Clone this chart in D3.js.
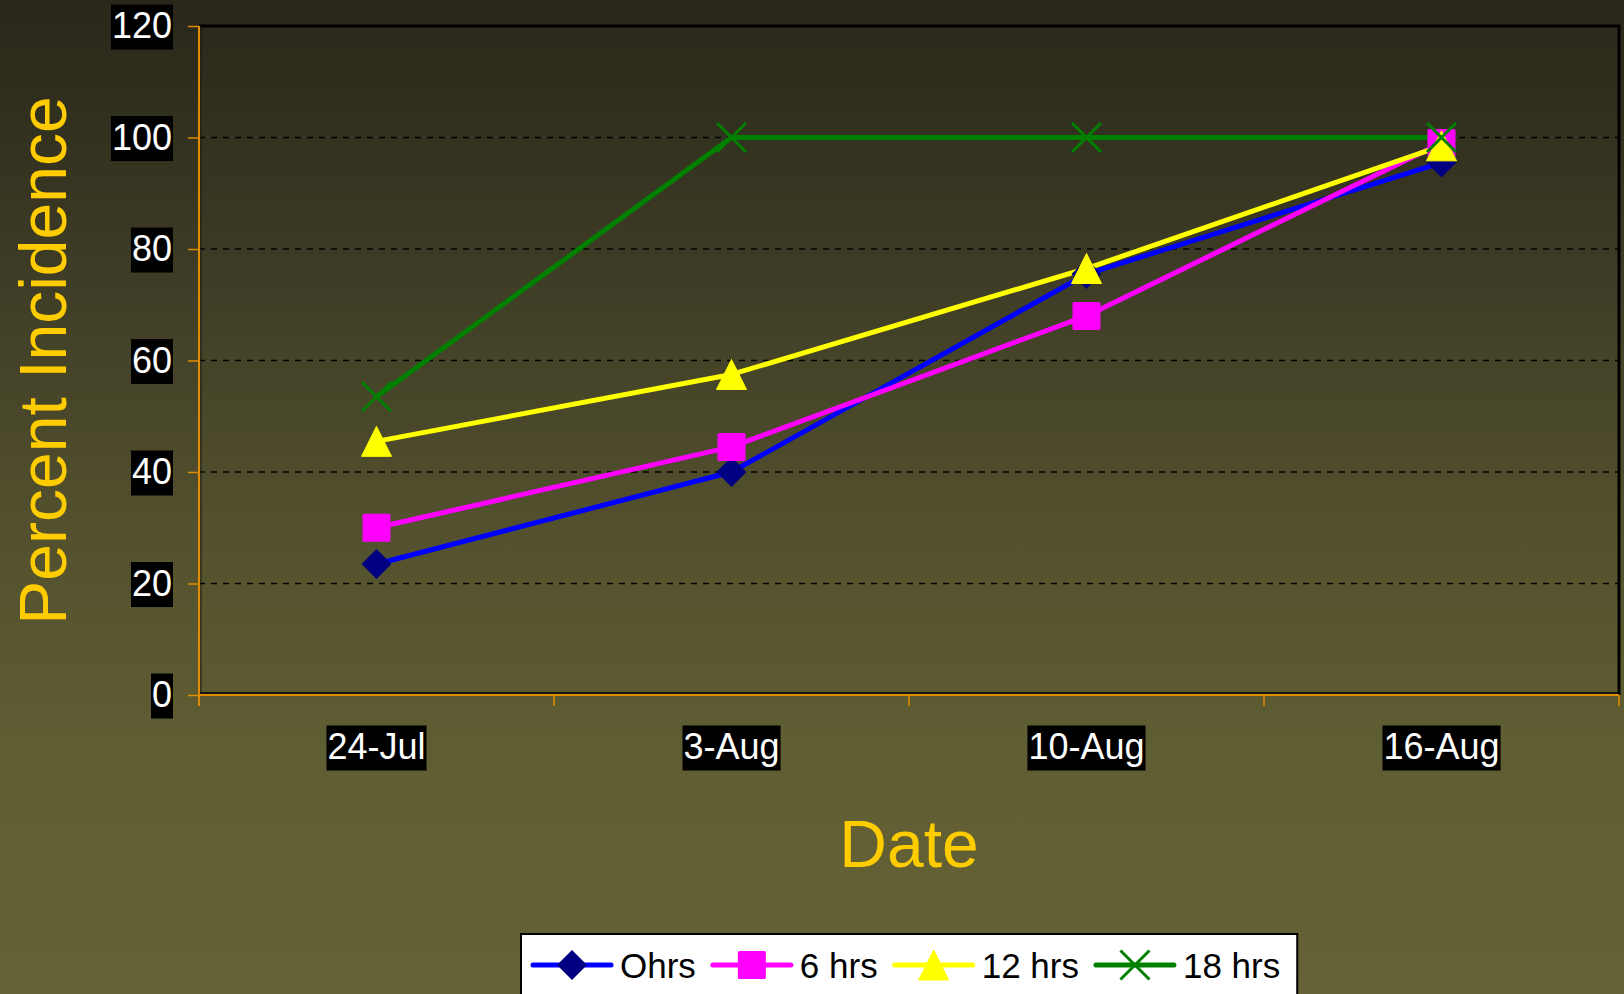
<!DOCTYPE html>
<html>
<head>
<meta charset="utf-8">
<script src="https://cdn.jsdelivr.net/npm/d3@7"></script>
<style>
  html, body { margin: 0; padding: 0; background: #646235; }
  svg { display: block; }
  text { font-family: "Liberation Sans", Arial, sans-serif; }
</style>
</head>
<body>
<svg id="chart" width="1624" height="994"></svg>
<script>
// Categories and series values (percent incidence)
const categories = ["24-Jul", "3-Aug", "10-Aug", "16-Aug"];
const seriesNames = ["Ohrs", "6 hrs", "12 hrs", "18 hrs"];
const ohrs  = [23.5, 40, 75.5, 95.5];
const hrs6  = [30, 44.5, 68, 99];
const hrs12 = [45.5, 57.5, 76.5, 98.5];
const hrs18 = [53.5, 100, 100, 100];
const yTicks = [0, 20, 40, 60, 80, 100, 120];

const series = [
  { name: seriesNames[0], values: ohrs,  line: "#0000ff", marker: "diamond",  fill: "#000080" },
  { name: seriesNames[1], values: hrs6,  line: "#ff00ff", marker: "square",   fill: "#ff00ff" },
  { name: seriesNames[2], values: hrs12, line: "#ffff00", marker: "triangle", fill: "#ffff00" },
  { name: seriesNames[3], values: hrs18, line: "#008000", marker: "cross",    fill: "#008000" }
];

const W = 1624, H = 994;
const plot = { left: 199, right: 1619, top: 26, bottom: 695 };
const AXIS = "#e08c00";
const TITLE = "#ffcc00";
const FS = 36;

const svg = d3.select("#chart");

// page background gradient
const defs = svg.append("defs");
const grad = defs.append("linearGradient").attr("id", "bg")
  .attr("x1", 0).attr("y1", 0).attr("x2", 0).attr("y2", 1);
[[0, "#28271a"], [0.3, "#403e26"], [0.55, "#54522e"], [0.75, "#5f5d32"], [1, "#656335"]]
  .forEach(([o, c]) => grad.append("stop").attr("offset", o).attr("stop-color", c));
svg.append("rect").attr("width", W).attr("height", H).attr("fill", "url(#bg)");

const x = d3.scaleBand().domain(categories).range([plot.left, plot.right]).paddingInner(0).paddingOuter(0);
const xc = c => x(c) + x.bandwidth() / 2;
const y = d3.scaleLinear().domain([0, 120]).range([plot.bottom, plot.top]);

// gridlines
svg.append("g").selectAll("line").data(yTicks.filter(t => t > 0 && t < 120)).join("line")
  .attr("x1", plot.left).attr("x2", plot.right)
  .attr("y1", d => y(d)).attr("y2", d => y(d))
  .attr("stroke", "#000").attr("stroke-width", 1.5).attr("stroke-dasharray", "6,6");

// plot border (top/right black)
svg.append("path")
  .attr("d", `M${plot.left},${y(120)}H${plot.right}V${plot.bottom}`)
  .attr("fill", "none").attr("stroke", "#000").attr("stroke-width", 3);
svg.append("line").attr("x1", plot.left).attr("x2", plot.right)
  .attr("y1", plot.bottom - 2).attr("y2", plot.bottom - 2)
  .attr("stroke", "#000").attr("stroke-width", 1.5);
svg.append("line").attr("x1", plot.left + 2).attr("x2", plot.left + 2)
  .attr("y1", plot.top).attr("y2", plot.bottom)
  .attr("stroke", "#1a1a10").attr("stroke-width", 1);

// y axis (orange)
const yAxis = svg.append("g").attr("transform", `translate(${plot.left},0)`)
  .call(d3.axisLeft(y).tickValues(yTicks).tickSize(11).tickFormat(d3.format("d")));
yAxis.select(".domain").attr("stroke", AXIS).attr("stroke-width", 2)
  .attr("d", `M0,${plot.top}V${plot.bottom + 11}`);
yAxis.selectAll(".tick line").attr("stroke", AXIS).attr("stroke-width", 1.5);
yAxis.selectAll(".tick text").remove();

// x axis (orange), ticks at category boundaries
const bounds = categories.map(c => x(c)).concat([plot.right]);
const xAxisG = svg.append("g");
xAxisG.append("line").attr("x1", plot.left).attr("x2", plot.right)
  .attr("y1", plot.bottom).attr("y2", plot.bottom)
  .attr("stroke", AXIS).attr("stroke-width", 2);
xAxisG.selectAll("line.tk").data(bounds).join("line").attr("class", "tk")
  .attr("x1", d => d).attr("x2", d => d)
  .attr("y1", plot.bottom).attr("y2", plot.bottom + 11)
  .attr("stroke", AXIS).attr("stroke-width", 1.5);

// label with black background box
function boxedLabel(g, txt, px, baseline, anchor) {
  const grp = g.append("g");
  const rect = grp.append("rect").attr("fill", "#000");
  const t = grp.append("text").text(txt)
    .attr("x", px).attr("y", baseline)
    .attr("text-anchor", anchor)
    .attr("font-size", FS).attr("fill", "#fff");
  const bb = t.node().getBBox();
  rect.attr("x", bb.x - 1).attr("width", bb.width + 2)
    .attr("y", baseline - 0.93 * FS).attr("height", 1.25 * FS);
}

const yLab = svg.append("g");
yTicks.forEach(v => boxedLabel(yLab, String(v), 172, y(v) + 12, "end"));

const xLab = svg.append("g");
categories.forEach(c => boxedLabel(xLab, c, xc(c), 759, "middle"));

// axis titles
svg.append("text").text("Percent Incidence")
  .attr("transform", `translate(66,${(plot.top + plot.bottom) / 2}) rotate(-90)`)
  .attr("text-anchor", "middle").attr("font-size", 66).attr("fill", TITLE);
svg.append("text").text("Date")
  .attr("x", (plot.left + plot.right) / 2).attr("y", 867)
  .attr("text-anchor", "middle").attr("font-size", 66).attr("fill", TITLE);

// marker shapes
function drawMarker(g, type, cx, cy, fill) {
  if (type === "diamond") {
    g.append("path").attr("d", `M${cx},${cy - 15}L${cx + 15},${cy}L${cx},${cy + 15}L${cx - 15},${cy}Z`)
      .attr("fill", fill);
  } else if (type === "square") {
    g.append("rect").attr("x", cx - 14).attr("y", cy - 14).attr("width", 28).attr("height", 28)
      .attr("rx", 1.5).attr("fill", fill);
  } else if (type === "triangle") {
    g.append("path").attr("d", `M${cx},${cy - 15}L${cx + 15},${cy + 15}L${cx - 15},${cy + 15}Z`)
      .attr("fill", fill).attr("stroke", fill).attr("stroke-width", 1).attr("stroke-linejoin", "round");
  } else if (type === "cross") {
    g.append("path").attr("d", `M${cx - 14.5},${cy - 14.5}L${cx + 14.5},${cy + 14.5}M${cx + 14.5},${cy - 14.5}L${cx - 14.5},${cy + 14.5}`)
      .attr("stroke", fill).attr("stroke-width", 3).attr("fill", "none");
  }
}

// series lines, then markers
const line = d3.line().x((d, i) => xc(categories[i])).y(d => y(d));
const linesG = svg.append("g");
series.forEach(s => {
  linesG.append("path").datum(s.values).attr("d", line)
    .attr("fill", "none").attr("stroke", s.line).attr("stroke-width", 5)
    .attr("stroke-linejoin", "round");
});
const markG = svg.append("g");
series.forEach(s => {
  s.values.forEach((v, i) => drawMarker(markG, s.marker, xc(categories[i]), y(v), s.fill));
});

// legend
const leg = svg.append("g");
const legRect = leg.append("rect").attr("x", 521).attr("y", 934).attr("height", 80)
  .attr("fill", "#fff").attr("stroke", "#000").attr("stroke-width", 2);
let lx = 533;
const ly = 965;
series.forEach(s => {
  leg.append("line").attr("x1", lx).attr("x2", lx + 78).attr("y1", ly).attr("y2", ly)
    .attr("stroke", s.line).attr("stroke-width", 5).attr("stroke-linecap", "round");
  drawMarker(leg, s.marker, lx + 39, ly, s.fill);
  const t = leg.append("text").text(s.name).attr("x", lx + 87).attr("y", ly + 12.5)
    .attr("font-size", 35).attr("fill", "#000");
  lx = lx + 87 + t.node().getComputedTextLength() + 17;
});
legRect.attr("width", lx - 521);
</script>
</body>
</html>
